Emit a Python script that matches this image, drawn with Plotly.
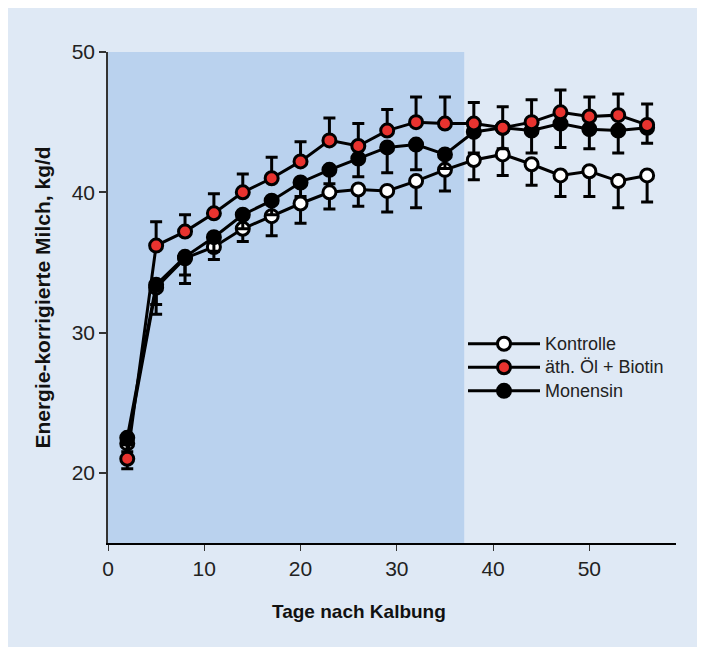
import plotly.graph_objects as go

# Data
days = [2, 5, 8, 11, 14, 17, 20, 23, 26, 29, 32, 35, 38, 41, 44, 47, 50, 53, 56]
kontrolle = [22.1, 33.2, 35.3, 36.1, 37.4, 38.3, 39.2, 40.0, 40.2, 40.1, 40.8, 41.6, 42.3, 42.7, 42.0, 41.2, 41.5, 40.8, 41.2]
kontrolle_err = [1.8, 1.9, 1.8, 0.9, 0.9, 1.4, 1.4, 1.2, 1.2, 1.5, 1.9, 1.5, 1.4, 1.5, 1.5, 1.5, 1.8, 1.9, 1.9]
oel_biotin = [21.0, 36.2, 37.2, 38.5, 40.0, 41.0, 42.2, 43.7, 43.3, 44.4, 45.0, 44.9, 44.9, 44.6, 45.0, 45.7, 45.4, 45.5, 44.8]
oel_biotin_err = [1.0, 1.7, 1.2, 1.4, 1.3, 1.5, 1.4, 1.6, 1.6, 1.5, 1.8, 1.9, 1.5, 1.5, 1.6, 1.6, 1.4, 1.5, 1.5]
monensin = [22.5, 33.4, 35.4, 36.8, 38.4, 39.4, 40.7, 41.6, 42.4, 43.2, 43.4, 42.7, 44.3, 44.6, 44.4, 44.9, 44.5, 44.4, 44.6]
monensin_err = [1.0, 1.4, 1.3, 1.0, 1.0, 1.0, 1.0, 1.0, 1.3, 1.8, 1.8, 1.0, 1.5, 1.5, 1.6, 1.7, 1.4, 1.6, 1.1]

names = ["Kontrolle", "äth. Öl + Biotin", "Monensin"]
x_ticks = [0, 10, 20, 30, 40, 50]
y_ticks = [20, 30, 40, 50]
phase_end = 37

FONT = "Liberation Sans, Arial, sans-serif"
PANEL = "#dfe9f5"
SHADE = "#bad2ee"
RED = "#e8332f"

zeros = [0] * len(days)

fig = go.Figure()

def add(name, y, err, fill, up, rank):
    eb = dict(type="data", symmetric=False, color="black", thickness=3, width=6)
    if up:
        eb.update(array=err, arrayminus=zeros)
    else:
        eb.update(array=zeros, arrayminus=err)
    fig.add_trace(go.Scatter(
        x=days, y=y, name='<span style="font-size:18px">' + name + '</span>',
        mode="lines+markers",
        line=dict(color="black", width=3),
        marker=dict(size=13, color=fill, line=dict(color="black", width=3)),
        error_y=eb, legendrank=rank,
    ))

add(names[0], kontrolle, kontrolle_err, "white", False, 1)
add(names[2], monensin, monensin_err, "black", False, 3)
add(names[1], oel_biotin, oel_biotin_err, RED, True, 2)

# shaded phase
fig.add_shape(type="rect", xref="x", yref="y",
              x0=0, x1=phase_end, y0=15, y1=50,
              fillcolor=SHADE, line_width=0, layer="below")

fig.add_annotation(text="<b>Tage nach Kalbung</b>", xref="paper", yref="paper",
                   x=0.4419, y=-0.1405, xanchor="center", yanchor="middle",
                   showarrow=False, font=dict(family=FONT, size=19, color="#111"))
fig.add_annotation(text="<b>Energie-korrigierte Milch, kg/d</b>", xref="paper", yref="paper",
                   x=-0.116, y=0.5, xanchor="center", yanchor="middle",
                   showarrow=False, textangle=-90,
                   font=dict(family=FONT, size=21, color="#111"))

fig.update_layout(
    width=705, height=647,
    margin=dict(l=100, r=37, t=44, b=112),
    paper_bgcolor=PANEL, plot_bgcolor=PANEL,
    font=dict(family=FONT, color="#222"),
    showlegend=True,
    legend=dict(x=0.625, y=0.44, xanchor="left", yanchor="top",
                bgcolor="rgba(0,0,0,0)", font=dict(size=15.8, family=FONT, color="#222"),
                traceorder="normal", itemwidth=72),
)
fig.update_xaxes(range=[0, 59], tickvals=x_ticks, showgrid=False, zeroline=False,
                 showline=True, linecolor="black", linewidth=2,
                 ticks="outside", ticklen=6, tickwidth=1, tickcolor="#333",
                 tickfont=dict(size=21, family=FONT, color="#222"))
fig.update_yaxes(range=[15, 50], tickvals=y_ticks, showgrid=False, zeroline=False,
                 showline=True, linecolor="#333", linewidth=1.5,
                 ticks="outside", ticklen=7, tickwidth=1.5, tickcolor="#333",
                 tickfont=dict(size=21, family=FONT, color="#222"))

fig.write_html(
    "out.html",
    post_script=(
        "document.documentElement.style.overflow='hidden';"
        "document.body.style.overflow='hidden';"
    ),
)
